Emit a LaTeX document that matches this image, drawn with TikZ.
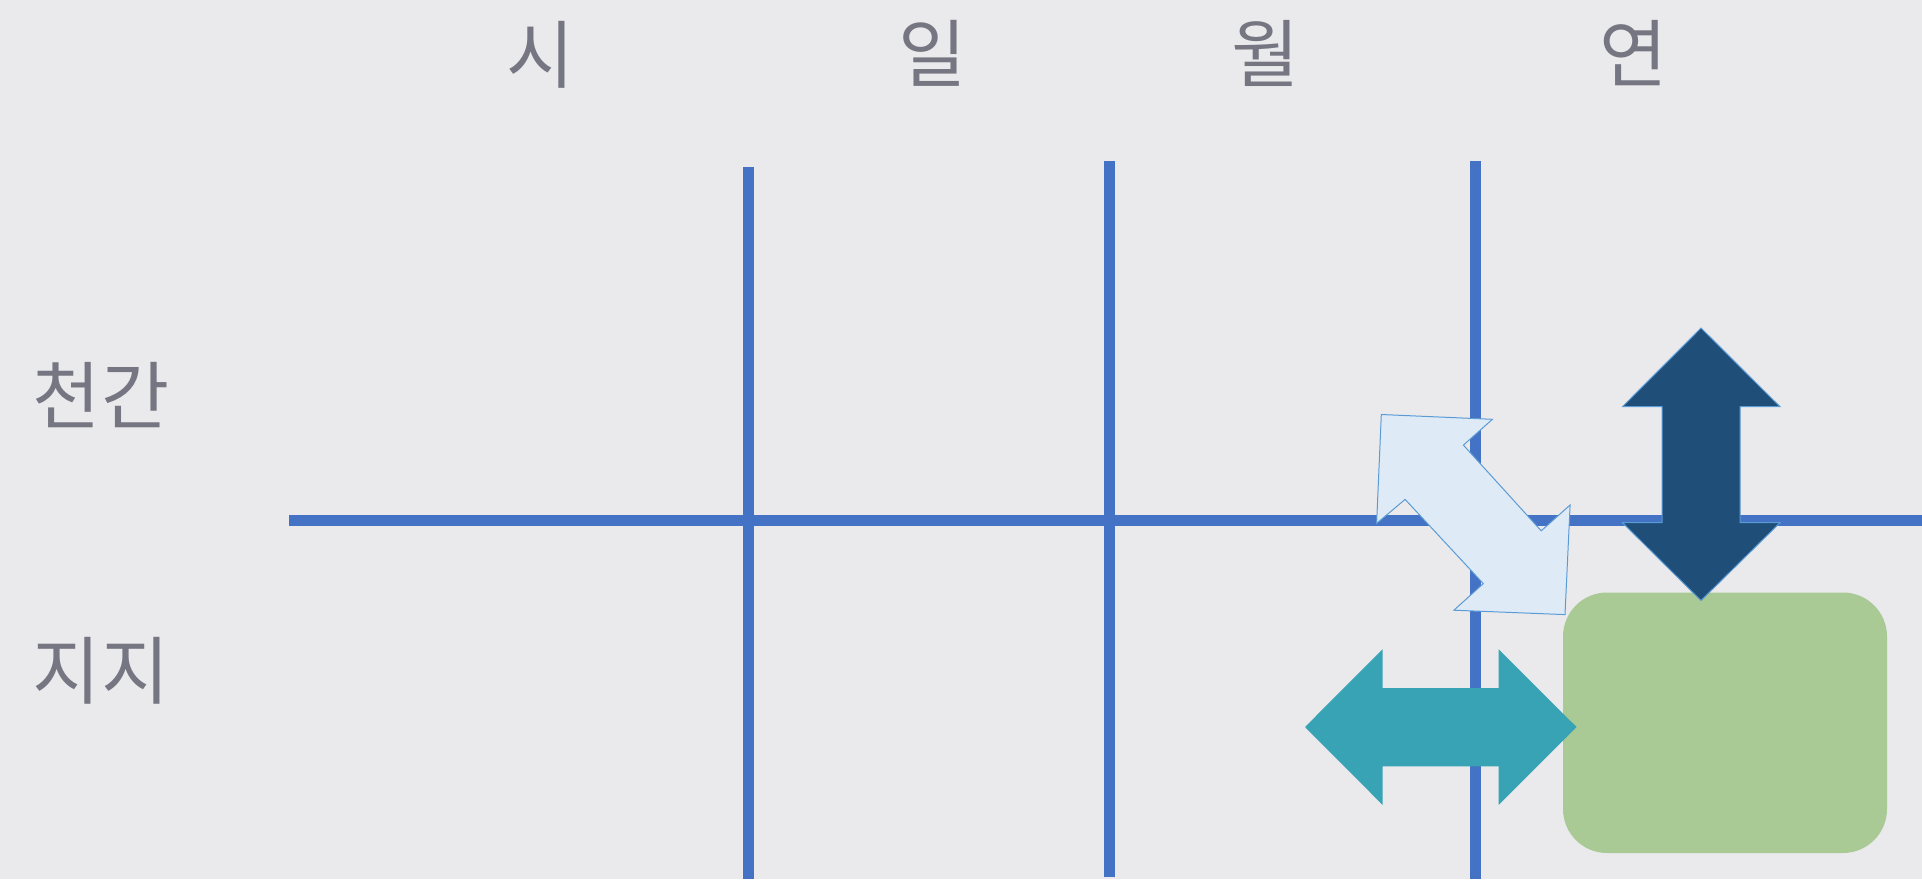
\documentclass[tikz,border=0pt]{standalone}
\usepackage{fontspec}
\newfontfamily\kr{Noto Sans CJK KR}
\definecolor{bgc}{RGB}{234,234,236}
\definecolor{gridc}{RGB}{68,114,196}
\definecolor{txtc}{RGB}{118,118,130}
\definecolor{navy}{RGB}{31,78,121}
\definecolor{teal}{RGB}{55,163,180}
\definecolor{paleblue}{RGB}{222,235,247}
\definecolor{edgeblue}{RGB}{91,155,213}
\definecolor{greenbox}{RGB}{169,201,149}
\tikzset{
  gridline/.style={draw=gridc, line width=5.5pt},
  lbl/.style={inner sep=0pt, text=txtc, font=\kr\fontsize{37}{40}\selectfont},
  arrowshape/.style={line width=0.5pt, line join=miter}
}
\begin{document}
\begin{tikzpicture}[x=0.5pt,y=-0.5pt]
\fill[bgc] (0,0) rectangle (1922,879);
\useasboundingbox (0,0) rectangle (1922,879);
% grid
\coordinate (hl) at (289,520);
\coordinate (hr) at (1922,520);
\coordinate (v1t) at (748,167);
\coordinate (v1b) at (748,879);
\coordinate (v2t) at (1109,161);
\coordinate (v2b) at (1109,877);
\coordinate (v3t) at (1475,161);
\coordinate (v3b) at (1475,879);
\draw[gridline] (hl) -- (hr);
\draw[gridline] (v1t) -- (v1b);
\draw[gridline] (v2t) -- (v2b);
\draw[gridline] (v3t) -- (v3b);
% labels
\node[lbl] (si) at (541,55) {시};
\node[lbl] (il) at (933,53) {일};
\node[lbl] (wol) at (1266,53) {월};
\node[lbl] (yeon) at (1634,53) {연};
\node[lbl] (cg) at (101,395) {천간};
\node[lbl] (jj) at (101,671) {지지};
% green rounded box
\fill[greenbox, rounded corners=22pt] (1563,592.5) rectangle (1887,853);
% teal left-right arrow
\fill[teal] (1305,727) -- (1382.5,649.3) -- (1382.5,688) -- (1498.7,688) -- (1498.7,649.3)
  -- (1576.5,727) -- (1498.7,804.8) -- (1498.7,766.4) -- (1382.5,766.4) -- (1382.5,804.8) -- cycle;
% navy up-down arrow
\filldraw[arrowshape, fill=navy, draw=edgeblue] (1701,328) -- (1780,406.7) -- (1740,406.7) -- (1740,522.7) -- (1780,522.7)
  -- (1701,600.5) -- (1622.5,522.7) -- (1662,522.7) -- (1662,406.7) -- (1622.5,406.7) -- cycle;
% pale diagonal arrow
\filldraw[arrowshape, fill=paleblue, draw=edgeblue] (1381.3,414.5) -- (1492.4,419.3) -- (1463.4,445.1) -- (1541.2,530.8)
  -- (1570.1,505.0) -- (1565.0,614.6) -- (1453.9,610.2) -- (1483.3,583.6) -- (1405.1,499.4) -- (1376.6,523.4) -- cycle;
\end{tikzpicture}
\end{document}
